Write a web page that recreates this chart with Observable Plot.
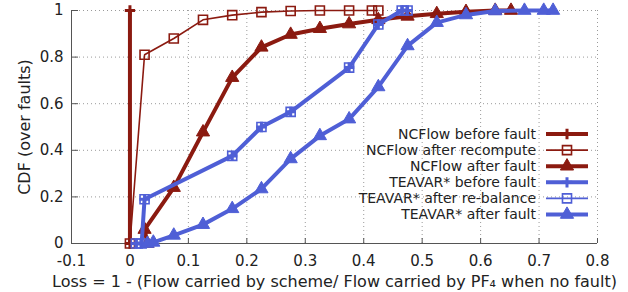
<!DOCTYPE html>
<html><head><meta charset="utf-8">
<script src="https://cdn.jsdelivr.net/npm/d3@7"></script>
<script src="https://cdn.jsdelivr.net/npm/@observablehq/plot@0.6"></script>
<style>
html,body{margin:0;padding:0;background:#fff;}
#chart svg{font-family:"DejaVu Sans",sans-serif;}
</style>
</head><body><div id="chart"></div>
<script>
// ---------- data ----------
const seriesNames = [
  "NCFlow before fault",
  "NCFlow after recompute",
  "NCFlow after fault",
  "TEAVAR* before fault",
  "TEAVAR* after re-balance",
  "TEAVAR* after fault"
];
const ncBeforeX = [0, 0];
const ncBeforeY = [0, 1];
const ncRecomputeX = [0, 0.025, 0.075, 0.125, 0.175, 0.225, 0.275, 0.325, 0.375, 0.414, 0.425];
const ncRecomputeY = [0, 0.81, 0.88, 0.96, 0.98, 0.993, 0.998, 1, 1, 1, 1];
const ncAfterX = [0.03, 0.025, 0.075, 0.125, 0.175, 0.225, 0.275, 0.325, 0.375, 0.425, 0.475, 0.525, 0.575, 0.625, 0.652];
const ncAfterY = [0, 0.06, 0.24, 0.478, 0.712, 0.842, 0.897, 0.922, 0.942, 0.96, 0.975, 0.986, 0.995, 1, 1];
const tvBeforeX = [0.01, 0.02, 0.025, 0.175, 0.225, 0.275, 0.375, 0.425, 0.465, 0.475];
const tvBeforeY = [0, 0, 0.19, 0.376, 0.5, 0.565, 0.755, 0.94, 1, 1];
const tvRebalanceX = [0.01, 0.02, 0.025, 0.175, 0.225, 0.275, 0.375, 0.425, 0.465, 0.475];
const tvRebalanceY = [0, 0, 0.19, 0.376, 0.5, 0.565, 0.755, 0.94, 1, 1];
const tvAfterX = [0.03, 0.04, 0.075, 0.125, 0.175, 0.225, 0.275, 0.325, 0.375, 0.425, 0.475, 0.525, 0.575, 0.625, 0.675, 0.708, 0.724];
const tvAfterY = [0, 0.005, 0.035, 0.081, 0.149, 0.234, 0.363, 0.462, 0.534, 0.672, 0.848, 0.948, 0.981, 0.998, 1, 1, 1];

const xTicks = [-0.1, 0, 0.1, 0.2, 0.3, 0.4, 0.5, 0.6, 0.7, 0.8];
const xTickLabels = ["-0.1", "0", "0.1", "0.2", "0.3", "0.4", "0.5", "0.6", "0.7", "0.8"];
const yTicks = [0, 0.2, 0.4, 0.6, 0.8, 1];
const yTickLabels = ["0", "0.2", "0.4", "0.6", "0.8", "1"];
const xLabel = "Loss = 1 - (Flow carried by scheme/ Flow carried by PF\u2084 when no fault)";
const yLabel = "CDF (over faults)";

// ---------- styles ----------
const RED = "#8b1a10", BLUE = "#4f5fd6";
const styles = [
  {color: RED,  sw: 4,   symbol: "plus",     r: 3.4, fill: "none", msw: 3},
  {color: RED,  sw: 1.6, symbol: "square",   r: 5.1, fill: "none", msw: 1.6},
  {color: RED,  sw: 4,   symbol: "triangle", r: 4.9, fill: RED,    msw: 1},
  {color: BLUE, sw: 4,   symbol: "plus",     r: 3.4, fill: "none", msw: 3},
  {color: BLUE, sw: 1.6, symbol: "square",   r: 5.1, fill: "none", msw: 1.6},
  {color: BLUE, sw: 4,   symbol: "triangle", r: 4.9, fill: BLUE,   msw: 1}
];
const seriesX = [ncBeforeX, ncRecomputeX, ncAfterX, tvBeforeX, tvRebalanceX, tvAfterX];
const seriesY = [ncBeforeY, ncRecomputeY, ncAfterY, tvBeforeY, tvRebalanceY, tvAfterY];
const series = seriesNames.map((name, i) => seriesX[i].map((x, j) => ({x, y: seriesY[i][j], name})));

const grid = {stroke: "#9a9a9a", strokeOpacity: 1, strokeDasharray: "1,3", strokeWidth: 1};
const marks = [
  Plot.gridX(xTicks, grid),
  Plot.gridY(yTicks, grid),
  Plot.ruleY([0], {stroke: "#555", strokeWidth: 1}),
  Plot.ruleX([-0.1], {stroke: "#555", strokeWidth: 1}),
  Plot.axisX(xTicks, {tickSize: -5, tickPadding: 17, stroke: "#555", fill: "#222", fontSize: 15,
    tickFormat: d => xTickLabels[xTicks.indexOf(d)], label: null}),
  Plot.axisY(yTicks, {tickSize: -7, tickPadding: 15, stroke: "#555", fill: "#222", fontSize: 15,
    tickFormat: d => yTickLabels[yTicks.indexOf(d)], label: null}),
  Plot.text([xLabel], {frameAnchor: "bottom", dy: 38, text: d => d, fontSize: 16, fill: "#222", lineAnchor: "middle", textAnchor: "middle"}),
  Plot.text([yLabel], {frameAnchor: "left", dx: -47, rotate: -90, text: d => d, fontSize: 16, fill: "#222", lineAnchor: "middle", textAnchor: "middle"})
];
series.forEach((data, i) => {
  const s = styles[i];
  marks.push(Plot.line(data, {x: "x", y: "y", stroke: s.color, strokeWidth: s.sw, strokeLinejoin: "miter", strokeLinecap: "butt"}));
  marks.push(Plot.dot(data, {x: "x", y: "y", symbol: () => s.symbol, r: s.r, stroke: s.color, fill: s.fill, strokeWidth: s.msw}));
});

const chart = Plot.plot({
  width: 628, height: 292,
  marginLeft: 71, marginRight: 31, marginTop: 10, marginBottom: 49,
  x: {domain: [-0.1, 0.8]},
  y: {domain: [0, 1]},
  style: {fontFamily: "DejaVu Sans", fontSize: "14px", background: "#fff"},
  marks
});
document.getElementById("chart").appendChild(chart);

// ---------- legend (inside plot, right side) ----------
const svg = d3.select(chart);
const lg = svg.append("g").attr("font-family", "DejaVu Sans").attr("font-size", 14);
const symMap = {plus: d3.symbolPlus, square: d3.symbolSquare, triangle: d3.symbolTriangle};
seriesNames.forEach((name, i) => {
  const s = styles[i];
  const yy = 134 + i * 16.1;
  const g = lg.append("g").attr("transform", `translate(0,${yy})`);
  g.append("text").attr("x", 536).attr("y", 0).attr("dy", "0.35em").attr("text-anchor", "end").attr("fill", "#222").text(name);
  g.append("line").attr("x1", 546).attr("x2", 588).attr("stroke", s.color).attr("stroke-width", s.sw);
  g.append("path").attr("transform", "translate(567,0)")
    .attr("d", d3.symbol(symMap[s.symbol], Math.PI * s.r * s.r)())
    .attr("fill", s.fill).attr("stroke", s.color).attr("stroke-width", s.msw);
});
</script>
</body></html>
